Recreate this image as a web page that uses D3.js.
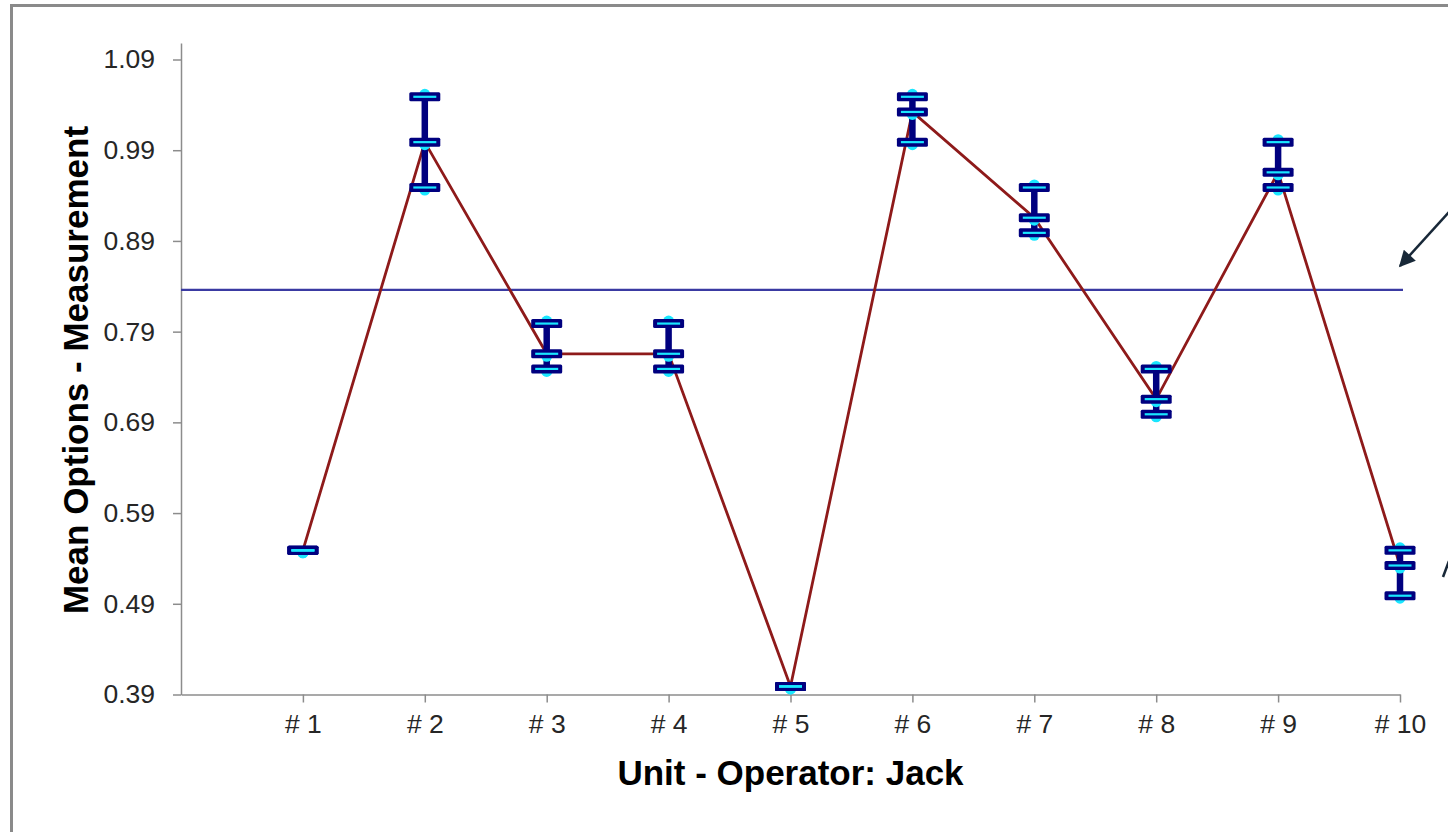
<!DOCTYPE html>
<html>
<head>
<meta charset="utf-8">
<script src="https://cdn.jsdelivr.net/npm/d3@7"></script>
<style>
  html, body { margin: 0; padding: 0; background: #ffffff; }
  svg { display: block; }
  text { font-family: "Liberation Sans", Arial, sans-serif; }
</style>
</head>
<body>
<script>
// ---- data ----
const categories = ["# 1", "# 2", "# 3", "# 4", "# 5", "# 6", "# 7", "# 8", "# 9", "# 10"];
const meanValues = [0.55, 1.0, 0.7667, 0.7667, 0.40, 1.0333, 0.9167, 0.7167, 0.9667, 0.5333];
const maxValues  = [0.55, 1.05, 0.80, 0.80, 0.40, 1.05, 0.95, 0.75, 1.00, 0.55];
const minValues  = [0.55, 0.95, 0.75, 0.75, 0.40, 1.00, 0.90, 0.70, 0.95, 0.50];
const referenceLineValue = 0.836;
const yTickLabels = ["0.39", "0.49", "0.59", "0.69", "0.79", "0.89", "0.99", "1.09"];
const xTitle = "Unit - Operator: Jack";
const yTitle = "Mean Options - Measurement";

const rows = categories.map((c, i) => ({ cat: c, mean: meanValues[i], max: maxValues[i], min: minValues[i] }));

const W = 1448, H = 832;
const svg = d3.select("body").append("svg").attr("width", W).attr("height", H);

// outer frame
svg.append("rect").attr("x", 11.5).attr("y", 5.5).attr("width", 1500).attr("height", 900)
  .attr("fill", "none").attr("stroke", "#8a8a8a").attr("stroke-width", 3);

const x = d3.scalePoint().domain([""].concat(categories)).range([181, 1400]);
const y = d3.scaleLinear().domain([0.39, 1.09]).range([694.5, 59.5]);
const yTop = y.invert(43);
const yAxisScale = d3.scaleLinear().domain([0.39, yTop]).range([694.5, 43]);

// y axis
const yAxis = svg.append("g").attr("transform", "translate(181,0)")
  .call(d3.axisLeft(yAxisScale).tickValues(yTickLabels.map(Number)).tickFormat(d3.format(".2f"))
    .tickSize(8).tickSizeOuter(0).tickPadding(18));
yAxis.select(".domain").attr("stroke", "#8c8c8c").attr("stroke-width", 1.5);
yAxis.selectAll(".tick line").attr("stroke", "#8c8c8c").attr("stroke-width", 1.5);
yAxis.selectAll(".tick text").attr("font-size", 26.5).attr("fill", "#262626")
  .attr("font-family", "'Liberation Sans', Arial, sans-serif");

// x axis
const xAxis = svg.append("g").attr("transform", "translate(0,694.5)")
  .call(d3.axisBottom(x).tickValues(categories).tickSize(8).tickSizeOuter(0).tickPadding(12));
xAxis.select(".domain").attr("stroke", "#8c8c8c").attr("stroke-width", 1.5);
xAxis.selectAll(".tick line").attr("stroke", "#8c8c8c").attr("stroke-width", 1.5);
xAxis.selectAll(".tick text").attr("font-size", 26.5).attr("fill", "#262626")
  .attr("font-family", "'Liberation Sans', Arial, sans-serif");

// titles
svg.append("text").attr("x", 790.5).attr("y", 785).attr("text-anchor", "middle")
  .attr("font-size", 35).attr("font-weight", "bold").attr("fill", "#000").text(xTitle);
svg.append("text").attr("transform", "translate(88,370) rotate(-90)").attr("text-anchor", "middle")
  .attr("font-size", 35).attr("font-weight", "bold").attr("fill", "#000").text(yTitle);

// reference line
svg.append("line").attr("x1", 181).attr("x2", 1403)
  .attr("y1", y(referenceLineValue)).attr("y2", y(referenceLineValue))
  .attr("stroke", "#3a3aa2").attr("stroke-width", 2.2);

const off = 1; // marker rendering offset as in source
// mean line
svg.append("path").datum(rows)
  .attr("d", d3.line().x(d => x(d.cat)).y(d => y(d.mean) + off))
  .attr("fill", "none").attr("stroke", "#8e1a1a").attr("stroke-width", 2.8);

const navy = "#00007f", cyan = "#19e6ff";
const g = svg.append("g");

// vertical range bars
g.selectAll("line.rng").data(rows.filter(d => d.max > d.min)).join("line").attr("class", "rng")
  .attr("x1", d => x(d.cat)).attr("x2", d => x(d.cat))
  .attr("y1", d => y(d.max) + off).attr("y2", d => y(d.min) + off)
  .attr("stroke", navy).attr("stroke-width", 6.5);

// cyan circle markers
const circ = [];
rows.forEach(d => {
  circ.push({ cat: d.cat, v: d.min, o: 2.5 });
  circ.push({ cat: d.cat, v: d.mean, o: 2.5 });
  if (d.max > d.min) circ.push({ cat: d.cat, v: d.max, o: -2.5 });
});
g.selectAll("circle").data(circ).join("circle")
  .attr("cx", d => x(d.cat)).attr("cy", d => y(d.v) + off + d.o).attr("r", 5.5)
  .attr("fill", cyan);

// dash markers at max, mean, min
const dashes = [];
rows.forEach(d => { [d.max, d.mean, d.min].forEach(v => dashes.push({ cat: d.cat, v })); });
g.selectAll("rect.dash").data(dashes).join("rect").attr("class", "dash")
  .attr("x", d => x(d.cat) - 15.5).attr("y", d => y(d.v) + off - 4.5)
  .attr("width", 31).attr("height", 9).attr("rx", 1.5)
  .attr("fill", navy);
g.selectAll("line.dashc").data(dashes).join("line").attr("class", "dashc")
  .attr("x1", d => x(d.cat) - 11.5).attr("x2", d => x(d.cat) + 11.5)
  .attr("y1", d => y(d.v) + off).attr("y2", d => y(d.v) + off)
  .attr("stroke", cyan).attr("stroke-width", 2.2);

// annotation arrows at right edge
const defs = svg.append("defs");
defs.append("marker").attr("id", "ah").attr("viewBox", "0 0 10 10").attr("refX", 9).attr("refY", 5)
  .attr("markerWidth", 7.5).attr("markerHeight", 6.5).attr("orient", "auto").attr("markerUnits", "strokeWidth")
  .append("path").attr("d", "M0,0 L10,5 L0,10 z").attr("fill", "#182838");
svg.append("line").attr("x1", 1450).attr("y1", 211).attr("x2", 1400).attr("y2", 266)
  .attr("stroke", "#182838").attr("stroke-width", 2.5).attr("marker-end", "url(#ah)");
svg.append("line").attr("x1", 1443).attr("y1", 577).attr("x2", 1449).attr("y2", 561)
  .attr("stroke", "#182838").attr("stroke-width", 2.5);
</script>
</body>
</html>
